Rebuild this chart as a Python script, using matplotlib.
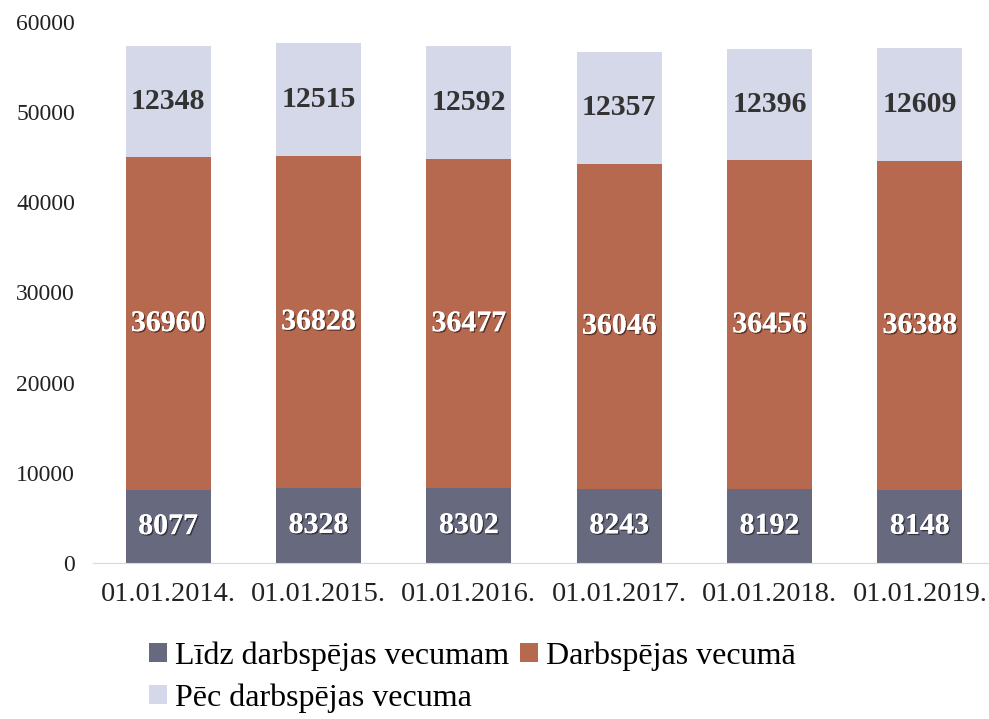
import matplotlib.pyplot as plt
import matplotlib.patheffects as pe
import numpy as np

dates = ["01.01.2014.", "01.01.2015.", "01.01.2016.", "01.01.2017.", "01.01.2018.", "01.01.2019."]
lidz = [8077, 8328, 8302, 8243, 8192, 8148]
darb = [36960, 36828, 36477, 36046, 36456, 36388]
pec = [12348, 12515, 12592, 12357, 12396, 12609]
series_names = ["Līdz darbspējas vecumam", "Darbspējas vecumā", "Pēc darbspējas vecuma"]

plt.rcParams['font.family'] = ['Liberation Serif', 'DejaVu Serif']

fig = plt.figure(figsize=(9.89, 7.19), dpi=100)
ax = fig.add_axes([0.094, 0.217, 0.906, 0.7524])

x = np.arange(len(dates))
w = 0.565
c1, c2, c3 = "#676a7e", "#b7694f", "#d5d8e8"
lidz = np.array(lidz); darb = np.array(darb); pec = np.array(pec)

b1 = ax.bar(x, lidz, w, color=c1, label=series_names[0])
b2 = ax.bar(x, darb, w, bottom=lidz, color=c2, label=series_names[1])
b3 = ax.bar(x, pec, w, bottom=lidz + darb, color=c3, label=series_names[2])

shadow = [pe.withSimplePatchShadow(offset=(1, -1), shadow_rgbFace='black', alpha=0.5), pe.Normal()]
for i in range(len(dates)):
    ax.text(x[i], lidz[i] / 2, str(lidz[i]), ha='center', va='center', color='white',
            fontsize=21.5, fontweight='bold', path_effects=shadow)
    ax.text(x[i], lidz[i] + darb[i] / 2, str(darb[i]), ha='center', va='center', color='white',
            fontsize=21.5, fontweight='bold', path_effects=shadow)
    ax.text(x[i], lidz[i] + darb[i] + pec[i] / 2, str(pec[i]), ha='center', va='center', color='#333333',
            fontsize=21.5, fontweight='bold')

ax.set_xlim(-0.5, 5.46)
ax.set_ylim(0, 60000)
ax.set_yticks(range(0, 60001, 10000))
ax.set_xticks(x)
ax.set_xticklabels(dates, fontsize=20.5, color='#222222')
ax.tick_params(axis='y', labelsize=17, colors='#222222', length=0, pad=13)
ax.tick_params(axis='x', length=0, pad=14)
for s in ['top', 'right', 'left']:
    ax.spines[s].set_visible(False)
ax.spines['bottom'].set_color('#d9d9d9')

handles = [b1, b3, b2]
labels = [series_names[0], series_names[2], series_names[1]]
fig.legend(handles, labels, ncol=2, loc='upper left', bbox_to_anchor=(0.138, 0.126),
           frameon=False, fontsize=23, handlelength=0.55, handleheight=0.55,
           handletextpad=0.25, columnspacing=0.35, labelspacing=0.4, borderaxespad=0)

fig.savefig("out.png", dpi=100)
